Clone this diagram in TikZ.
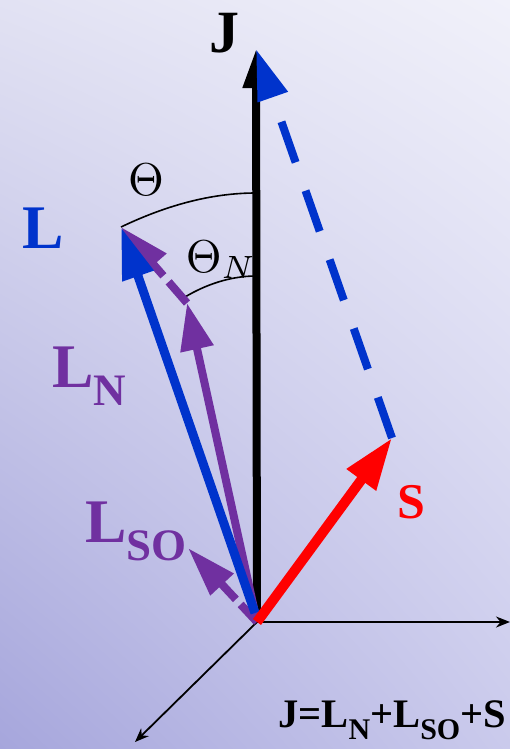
\documentclass[tikz,border=0pt]{standalone}
\usepackage{fontspec}
\setmainfont{Liberation Serif}
\usetikzlibrary{arrows.meta,shadings}
\definecolor{myblue}{RGB}{0,51,204}
\definecolor{mypurple}{RGB}{112,48,160}
\definecolor{myred}{RGB}{255,0,0}
\definecolor{bgUL}{RGB}{226,226,243}
\definecolor{bgUR}{RGB}{241,241,250}
\definecolor{bgLL}{RGB}{166,166,220}
\definecolor{bgLR}{RGB}{202,202,236}
\newcommand{\fsz}[1]{\fontsize{#1}{#1}\selectfont}
\newcommand{\mysub}[2]{\raisebox{-0.3em}{\fontsize{#1}{#1}\selectfont #2}}
\tikzset{
  thinaxis/.style={line width=1.8pt,-{Stealth[length=14pt,width=11pt]}},
  lbl/.style={inner sep=0pt,font=\bfseries},
  arc line/.style={line width=1.6pt}
}
\begin{document}
\begin{tikzpicture}[x=1pt,y=-1pt]
\shade[upper left=bgUL,upper right=bgUR,lower left=bgLL,lower right=bgLR] (0,0) rectangle (510,749);
\useasboundingbox (0,0) rectangle (510,749);
% coordinates
\coordinate (O) at (257,622);
\coordinate (Lbase) at (255,613);
\coordinate (Jtip) at (256,49);
\coordinate (Ltip) at (121,227);
\coordinate (LNtip) at (187,303);
\coordinate (ThNB) at (185,297);
\coordinate (LSOtip) at (188,548);
\coordinate (Stip) at (392,438);
\coordinate (Xend) at (510,622);
\coordinate (Yend) at (135,742);
\coordinate (ThA) at (256,193);
\coordinate (ThNA) at (256,276);
% axes
\draw[thinaxis] (O) -- (Xend);
\draw[thinaxis] (O) -- (Yend);
% angle arcs
\draw[arc line] (Ltip) .. controls (165,206) and (210,193) .. (ThA);
\draw[arc line] (ThNB) .. controls (205,285) and (230,276) .. (ThNA);
% J axis
\draw[line width=8pt,-{Triangle[length=39pt,width=25pt]}] (O) -- (Jtip);
% L_SO
\draw[mypurple,line width=8pt,dash pattern=on 24pt off 7pt,-{Triangle[length=50pt,width=30pt]}] (O) -- (LSOtip);
% L_N
\draw[mypurple,line width=8pt,-{Triangle[length=47pt,width=32pt]}] (O) -- (LNtip);
% L_SO added to L_N
\draw[mypurple,line width=8pt,dash pattern=on 28pt off 8pt,-{Triangle[length=50pt,width=32pt]}] (LNtip) -- (Ltip);
% L
\draw[myblue,line width=9pt,-{Triangle[length=52pt,width=31pt]}] (Lbase) -- (Ltip);
% S
\draw[myred,line width=10pt,-{Triangle[length=52pt,width=34pt]}] (O) -- (Stip);
% S added to L
\draw[myblue,line width=8pt,dash pattern=on 43pt off 30pt,-{Triangle[length=51pt,width=30pt]}] (Stip) -- (Jtip);
% labels
\node[lbl,font=\bfseries\fsz{60}] (Jl) at (224,33) {J};
\node[lbl,myblue,font=\bfseries\fsz{62}] (Ll) at (43,228) {L};
\node[lbl,myred,font=\bfseries\fsz{50}] (Sl) at (411,502) {S};
\node[inner sep=0pt,scale=4.6] (Th) at (146,180) {$\Theta$};
\node[inner sep=0pt,anchor=base west,scale=4.6] (ThN) at (185,272) {$\Theta_{N}$};
\node[lbl,mypurple,anchor=base west,font=\bfseries\fsz{62}] (LNl) at (52,387) {L\mysub{45}{N}};
\node[lbl,mypurple,anchor=base west,font=\bfseries\fsz{62}] (LSOl) at (85,542) {L\mysub{45}{SO}};
\node[lbl,anchor=base west,font=\bfseries\fsz{40.5}] (Eq) at (278,727) {J=L\mysub{30}{N}+L\mysub{30}{SO}+S};
\end{tikzpicture}
\end{document}
